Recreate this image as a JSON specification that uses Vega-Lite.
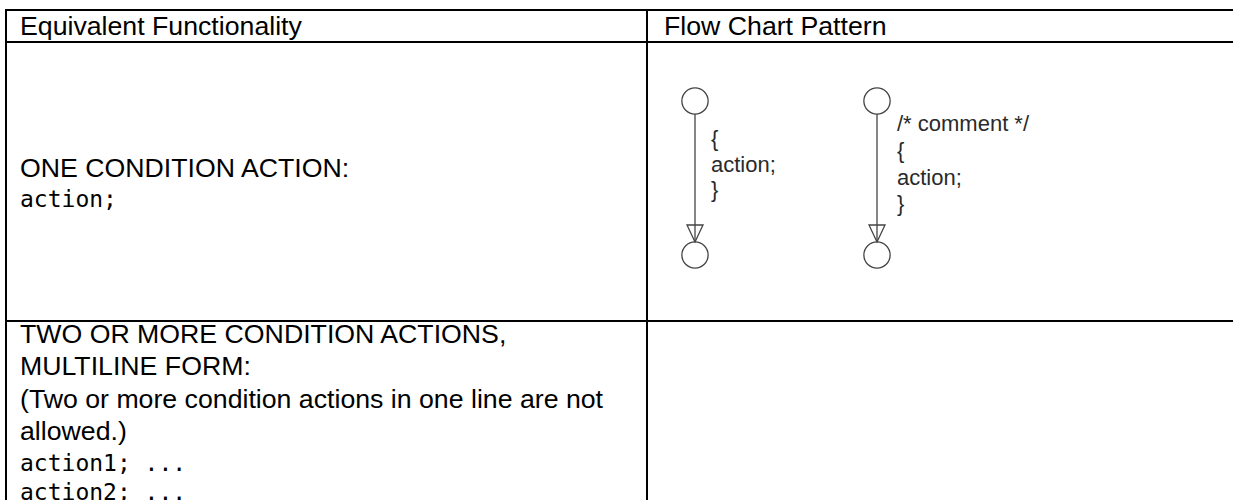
{
  "$schema": "https://vega.github.io/schema/vega-lite/v6.json",
  "width": 1233,
  "height": 500,
  "autosize": {"type": "none"},
  "padding": 0,
  "background": "white",
  "config": {"view": {"stroke": null}},
  "datasets": {
    "grid": [
      {"x": 5, "x2": 1233, "y": 10, "y2": 10},
      {"x": 5, "x2": 1233, "y": 42, "y2": 42},
      {"x": 5, "x2": 1233, "y": 321, "y2": 321},
      {"x": 6, "x2": 6, "y": 9, "y2": 500},
      {"x": 647, "x2": 647, "y": 9, "y2": 500}
    ],
    "sans": [
      {"x": 20, "y": 35, "t": "Equivalent Functionality"},
      {"x": 664, "y": 35, "t": "Flow Chart Pattern"},
      {"x": 20, "y": 177, "t": "ONE CONDITION ACTION:"},
      {"x": 20, "y": 343, "t": "TWO OR MORE CONDITION ACTIONS,"},
      {"x": 20, "y": 375, "t": "MULTILINE FORM:"},
      {"x": 20, "y": 408, "t": "(Two or more condition actions in one line are not"},
      {"x": 20, "y": 440, "t": "allowed.)"}
    ],
    "mono": [
      {"x": 20, "y": 207, "t": "action;"},
      {"x": 20, "y": 471, "t": "action1; ..."},
      {"x": 20, "y": 500, "t": "action2; ..."}
    ],
    "circles": [
      {"x": 695, "y": 101},
      {"x": 695, "y": 255},
      {"x": 877, "y": 101},
      {"x": 877, "y": 255}
    ],
    "stems": [
      {"x": 695, "y": 114, "y2": 242},
      {"x": 877, "y": 114, "y2": 242}
    ],
    "arrows": [
      {"x": 695, "y": 233.5},
      {"x": 877, "y": 233.5}
    ],
    "flowtext": [
      {"x": 711, "y": 146, "t": "{"},
      {"x": 711, "y": 172, "t": "action;"},
      {"x": 711, "y": 197, "t": "}"},
      {"x": 897, "y": 131, "t": "/* comment */"},
      {"x": 897, "y": 158, "t": "{"},
      {"x": 897, "y": 185, "t": "action;"},
      {"x": 897, "y": 211, "t": "}"}
    ]
  },
  "layer": [
    {
      "data": {"name": "grid"},
      "mark": {"type": "rule", "color": "black", "strokeWidth": 2},
      "encoding": {
        "x": {"field": "x", "type": "quantitative", "axis": null, "scale": {"domain": [0, 1233], "nice": false, "zero": false}},
        "x2": {"field": "x2"},
        "y": {"field": "y", "type": "quantitative", "axis": null, "scale": {"domain": [0, 500], "nice": false, "zero": false, "reverse": true}},
        "y2": {"field": "y2"}
      }
    },
    {
      "data": {"name": "sans"},
      "mark": {"type": "text", "font": "Liberation Sans", "fontSize": 26.7, "align": "left", "baseline": "alphabetic", "color": "black"},
      "encoding": {
        "x": {"field": "x", "type": "quantitative", "axis": null},
        "y": {"field": "y", "type": "quantitative", "axis": null},
        "text": {"field": "t"}
      }
    },
    {
      "data": {"name": "mono"},
      "mark": {"type": "text", "font": "DejaVu Sans Mono", "fontSize": 23, "align": "left", "baseline": "alphabetic", "color": "black"},
      "encoding": {
        "x": {"field": "x", "type": "quantitative", "axis": null},
        "y": {"field": "y", "type": "quantitative", "axis": null},
        "text": {"field": "t"}
      }
    },
    {
      "data": {"name": "stems"},
      "mark": {"type": "rule", "color": "#444", "strokeWidth": 1.3},
      "encoding": {
        "x": {"field": "x", "type": "quantitative", "axis": null},
        "y": {"field": "y", "type": "quantitative", "axis": null},
        "y2": {"field": "y2"}
      }
    },
    {
      "data": {"name": "circles"},
      "mark": {"type": "point", "shape": "circle", "size": 690, "filled": false, "stroke": "#444", "strokeWidth": 1.3, "opacity": 1},
      "encoding": {
        "x": {"field": "x", "type": "quantitative", "axis": null},
        "y": {"field": "y", "type": "quantitative", "axis": null}
      }
    },
    {
      "data": {"name": "arrows"},
      "mark": {"type": "point", "shape": "M-0.94,-1L0.94,-1L0,1Z", "size": 289, "filled": false, "stroke": "#444", "strokeWidth": 1.3, "opacity": 1},
      "encoding": {
        "x": {"field": "x", "type": "quantitative", "axis": null},
        "y": {"field": "y", "type": "quantitative", "axis": null}
      }
    },
    {
      "data": {"name": "flowtext"},
      "mark": {"type": "text", "font": "Liberation Sans", "fontSize": 22, "align": "left", "baseline": "alphabetic", "color": "#2a2a2a"},
      "encoding": {
        "x": {"field": "x", "type": "quantitative", "axis": null},
        "y": {"field": "y", "type": "quantitative", "axis": null},
        "text": {"field": "t"}
      }
    }
  ]
}
